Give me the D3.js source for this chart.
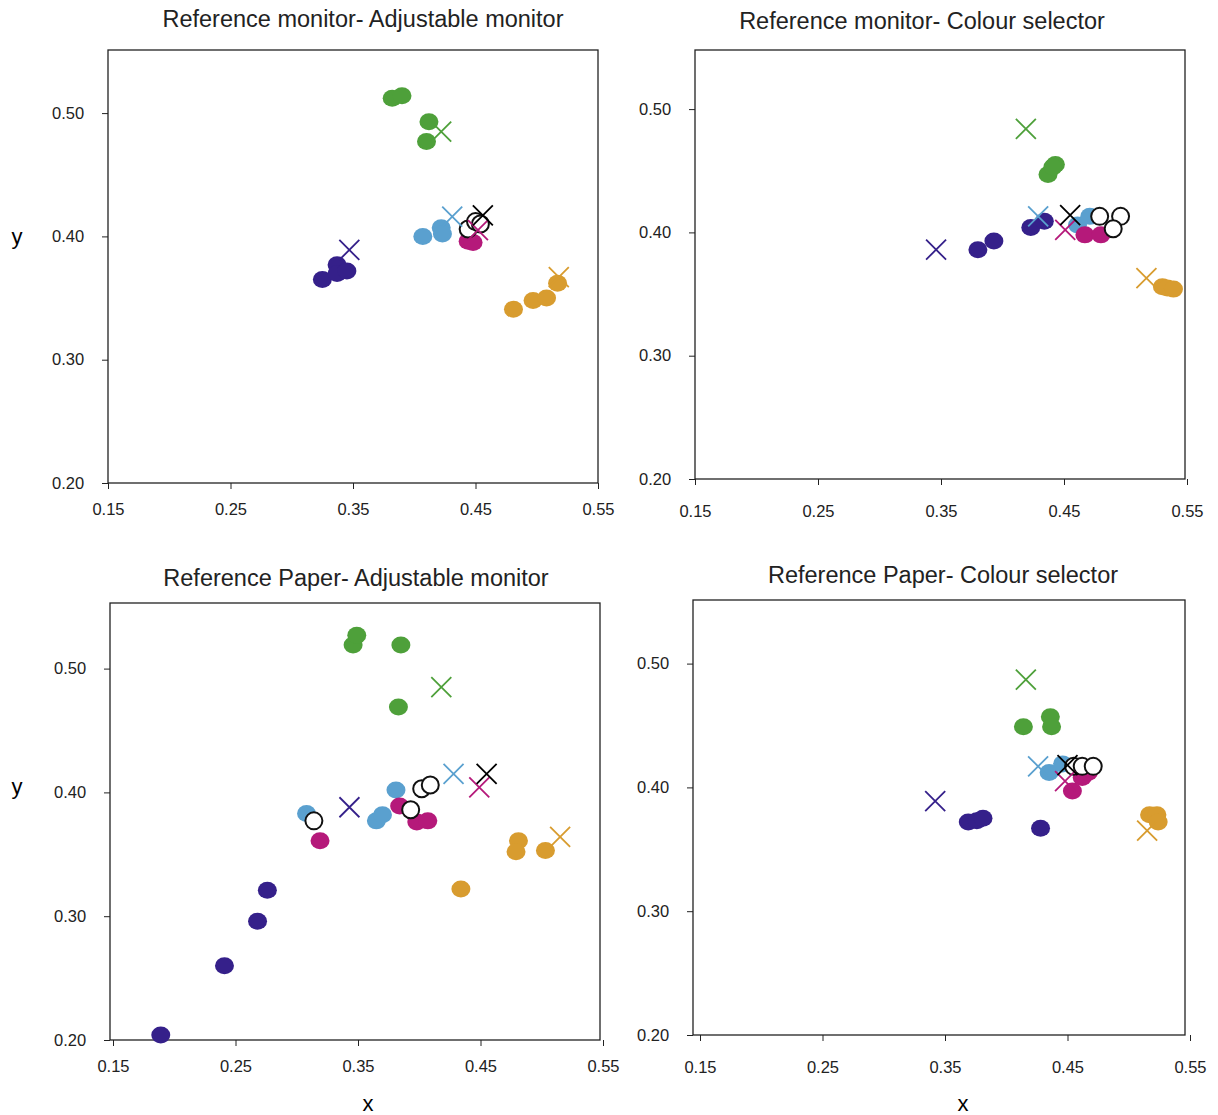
<!DOCTYPE html>
<html><head><meta charset="utf-8">
<script src="https://cdn.jsdelivr.net/npm/d3@7.9.0/dist/d3.min.js"></script>
<style>body{margin:0;background:#fff;font-family:Arial,"Liberation Sans",sans-serif}</style>
</head><body><svg id="chart" width="1218" height="1115"></svg>
<script>
const titles = ['Reference monitor- Adjustable monitor', 'Reference monitor- Colour selector',
  'Reference Paper- Adjustable monitor', 'Reference Paper- Colour selector'];
const xTicks = [0.15, 0.25, 0.35, 0.45, 0.55];
const yTicks = [0.20, 0.30, 0.40, 0.50];
const groups = ['navy', 'green', 'blue', 'magenta', 'orange', 'open'];
const colors = { navy: '#35208a', green: '#4ea03a', blue: '#5aa0cf', magenta: '#b5197a', orange: '#d89c2f', open: '#000' };

// measured dots per panel
const dotsTL = {
  navy: [[0.325,0.365],[0.337,0.377],[0.337,0.370],[0.345,0.372]],
  green: [[0.382,0.512],[0.390,0.514],[0.412,0.493],[0.410,0.477]],
  blue: [[0.407,0.400],[0.422,0.407],[0.423,0.402]],
  magenta: [[0.444,0.396],[0.448,0.395]],
  orange: [[0.481,0.341],[0.497,0.348],[0.508,0.350],[0.517,0.362]],
  open: [[0.444,0.406],[0.450,0.412],[0.454,0.410]]
};
const dotsTR = {
  navy: [[0.380,0.386],[0.393,0.393],[0.423,0.404],[0.434,0.409]],
  green: [[0.437,0.447],[0.443,0.455],[0.441,0.453]],
  blue: [[0.461,0.406],[0.471,0.413]],
  magenta: [[0.467,0.398],[0.480,0.398]],
  orange: [[0.530,0.356],[0.534,0.355],[0.539,0.354]],
  open: [[0.479,0.413],[0.496,0.413],[0.490,0.403]]
};
const dotsBL = {
  navy: [[0.189,0.204],[0.241,0.260],[0.268,0.296],[0.276,0.321]],
  green: [[0.346,0.519],[0.349,0.527],[0.385,0.519],[0.383,0.469]],
  blue: [[0.308,0.383],[0.381,0.402],[0.365,0.377],[0.370,0.382]],
  magenta: [[0.319,0.361],[0.384,0.389],[0.398,0.376],[0.407,0.377]],
  orange: [[0.481,0.361],[0.479,0.352],[0.503,0.353],[0.434,0.322]],
  open: [[0.314,0.377],[0.393,0.386],[0.402,0.403],[0.409,0.406]]
};
const dotsBR = {
  navy: [[0.369,0.372],[0.376,0.373],[0.381,0.375],[0.428,0.367]],
  green: [[0.414,0.449],[0.436,0.457],[0.437,0.449]],
  blue: [[0.435,0.412],[0.446,0.419]],
  magenta: [[0.454,0.397],[0.462,0.408],[0.467,0.412]],
  orange: [[0.517,0.378],[0.523,0.378],[0.524,0.372]],
  open: [[0.455,0.417],[0.462,0.417],[0.471,0.417]]
};
// reference crosses
const crossesTL = { navy:[0.347,0.389], green:[0.422,0.485], blue:[0.431,0.416], magenta:[0.452,0.405], orange:[0.518,0.367], open:[0.456,0.417] };
const crossesTR = { navy:[0.346,0.386], green:[0.419,0.484], blue:[0.429,0.413], magenta:[0.451,0.402], orange:[0.517,0.363], open:[0.455,0.414] };
const crossesBL = { navy:[0.343,0.388], green:[0.418,0.485], blue:[0.428,0.415], magenta:[0.449,0.404], orange:[0.515,0.364], open:[0.455,0.415] };
const crossesBR = { navy:[0.342,0.389], green:[0.416,0.487], blue:[0.426,0.417], magenta:[0.448,0.405], orange:[0.515,0.365], open:[0.450,0.418] };

const dots = [dotsTL, dotsTR, dotsBL, dotsBR];
const crosses = [crossesTL, crossesTR, crossesBL, crossesBR];
const frames = [
  { l: 108, r: 598, t: 50, b: 483, x0: 108, x1: 598, titleY: 27, tx: 363 },
  { l: 695, r: 1185, t: 50, b: 479, x0: 695, x1: 1187, titleY: 29, tx: 922 },
  { l: 110, r: 600, t: 603, b: 1040, x0: 113, x1: 603, titleY: 586, tx: 356 },
  { l: 693, r: 1185, t: 600, b: 1035, x0: 700, x1: 1190, titleY: 583, tx: 943 }
];

const svg = d3.select('#chart');

frames.forEach((f, i) => {
  const x = d3.scaleLinear().domain([0.15, 0.55]).range([f.x0, f.x1]);
  const y = d3.scaleLinear().domain([0.20, 0.50]).range([f.b, f.b - 0.30 * (i < 2 ? 1233 : 1238)]);
  const g = svg.append('g');

  g.append('rect').attr('x', f.l).attr('y', f.t).attr('width', f.r - f.l).attr('height', f.b - f.t)
    .attr('fill', 'none').attr('stroke', '#222').attr('stroke-width', 1.3);

  g.append('text').attr('x', f.tx).attr('y', f.titleY).attr('text-anchor', 'middle')
    .attr('font-size', 23.5).attr('fill', '#222').text(titles[i]);

  const xa = g.append('g').attr('transform', `translate(0,${f.b})`)
    .call(d3.axisBottom(x).tickValues(xTicks).tickFormat(d3.format('.2f')).tickSize(6).tickSizeOuter(0));
  const ya = g.append('g').attr('transform', `translate(${f.l},0)`)
    .call(d3.axisLeft(y).tickValues(yTicks).tickFormat(d3.format('.2f')).tickSize(6).tickSizeOuter(0));
  [xa, ya].forEach(a => {
    a.select('.domain').remove();
    a.selectAll('line').attr('stroke', '#222');
    a.selectAll('text').attr('font-size', 16.5).attr('fill', '#222').attr('font-family', 'Arial, Liberation Sans, sans-serif');
  });
  xa.selectAll('text').attr('dy', i % 2 ? '1.75em' : '1.4em');
  ya.selectAll('text').attr('dx', '-0.9em');

  groups.forEach(k => {
    const open = k === 'open';
    g.selectAll(null).data(dots[i][k]).join('ellipse')
      .attr('cx', d => x(d[0])).attr('cy', d => y(d[1]))
      .attr('rx', open ? 8.5 : 9.5).attr('ry', 8.5)
      .attr('fill', open ? '#fff' : colors[k])
      .attr('stroke', open ? '#111' : 'none').attr('stroke-width', 2);
  });
  groups.forEach(k => {
    const c = crosses[i][k], cx = x(c[0]), cy = y(c[1]), s = 10;
    g.append('path').attr('d', `M${cx - s},${cy - s}L${cx + s},${cy + s}M${cx - s},${cy + s}L${cx + s},${cy - s}`)
      .attr('stroke', colors[k]).attr('stroke-width', 1.8).attr('fill', 'none');
  });
});

svg.append('text').attr('x', 17).attr('y', 244).attr('text-anchor', 'middle').attr('font-size', 22).text('y');
svg.append('text').attr('x', 17).attr('y', 794).attr('text-anchor', 'middle').attr('font-size', 22).text('y');
svg.append('text').attr('x', 368).attr('y', 1111).attr('text-anchor', 'middle').attr('font-size', 22).text('x');
svg.append('text').attr('x', 963).attr('y', 1111).attr('text-anchor', 'middle').attr('font-size', 22).text('x');
</script></body></html>
